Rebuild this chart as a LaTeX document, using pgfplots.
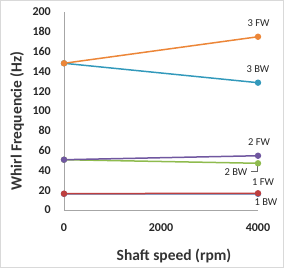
\documentclass[border=0pt]{standalone}
\usepackage{fontspec}
\setmainfont{Carlito}
\usepackage{pgfplots}
\pgfplotsset{compat=1.18}
\definecolor{c1bw}{HTML}{4A7DBA}
\definecolor{c1fw}{HTML}{BE3F3F}
\definecolor{c2bw}{HTML}{8FBB4E}
\definecolor{c2fw}{HTML}{7057A0}
\definecolor{c3bw}{HTML}{3399BB}
\definecolor{c3fw}{HTML}{EC8638}
\definecolor{axgray}{HTML}{A6A6A6}
\definecolor{frame}{HTML}{D9D9D9}
\begin{document}
\begin{tikzpicture}[x=1pt,y=1pt]
\draw[frame, line width=0.8pt] (-63.6,-57.6) rectangle (219.6,209.6);
\begin{axis}[
  at={(0,0)}, anchor=south west,
  scale only axis, width=194pt, height=198pt,
  xmin=0, xmax=4000, ymin=0, ymax=200,
  xtick={0,2000,4000}, ytick={0,20,...,200},
  axis x line*=bottom, axis y line*=left,
  axis line style={axgray, line width=0.7pt, -},
  major tick length=0pt,
  /pgf/number format/assume math mode=true,
  /pgf/number format/1000 sep={},
  tick label style={font=\fontsize{12}{12}\selectfont\bfseries, text=black!85},
  xticklabel style={anchor=base, yshift=-21.5pt},
  yticklabel style={anchor=east, inner sep=0pt, xshift=-13pt},
  clip=false,
  every axis plot/.append style={line width=1.5pt, mark=*, mark size=2.4pt},
]
\addplot[c1bw, mark options={fill=c1bw}] coordinates {(0,16.3) (4000,16.4)};
\addplot[c1fw, mark options={fill=c1fw}] coordinates {(0,16.5) (4000,16.9)};
\addplot[c2bw, mark options={fill=c2bw}] coordinates {(0,50.8) (4000,47.2)};
\addplot[c2fw, mark options={fill=c2fw}] coordinates {(0,50.8) (4000,54.8)};
\addplot[c3bw, mark options={fill=c3bw}] coordinates {(0,148.2) (4000,128.6)};
\addplot[c3fw, mark options={fill=c3fw}] coordinates {(0,148.2) (4000,175)};
\begin{scope}[every node/.style={font=\fontsize{10.5}{10.5}\selectfont, text=black!85, inner sep=0pt}]
\node at (axis cs:4000,175) [xshift=0.5pt, yshift=14pt] {3 FW};
\node at (axis cs:4000,128.6) [yshift=14pt] {3 BW};
\node at (axis cs:4000,54.8) [xshift=1pt, yshift=14pt] {2 FW};
\node at (axis cs:4000,47.2) [xshift=-22pt, yshift=-8.7pt] {2 BW};
\node at (axis cs:4000,16.9) [xshift=5pt, yshift=11pt] {1 FW};
\node at (axis cs:4000,16.4) [xshift=8pt, yshift=-8pt] {1 BW};
\end{scope}
\draw[black!60, line width=0.5pt] (axis cs:4000,47.2) ++(-1pt,-2pt) |- ++(-6pt,-5.5pt);
\end{axis}
\node[font=\fontsize{15.5}{15.5}\selectfont\bfseries, text=black!80] at (110,-46) {Shaft speed (rpm)};
\node[font=\fontsize{15.5}{15.5}\selectfont\bfseries, text=black!80, rotate=90] at (-47,89) {Whirl Frequencie (Hz)};
\end{tikzpicture}
\end{document}
